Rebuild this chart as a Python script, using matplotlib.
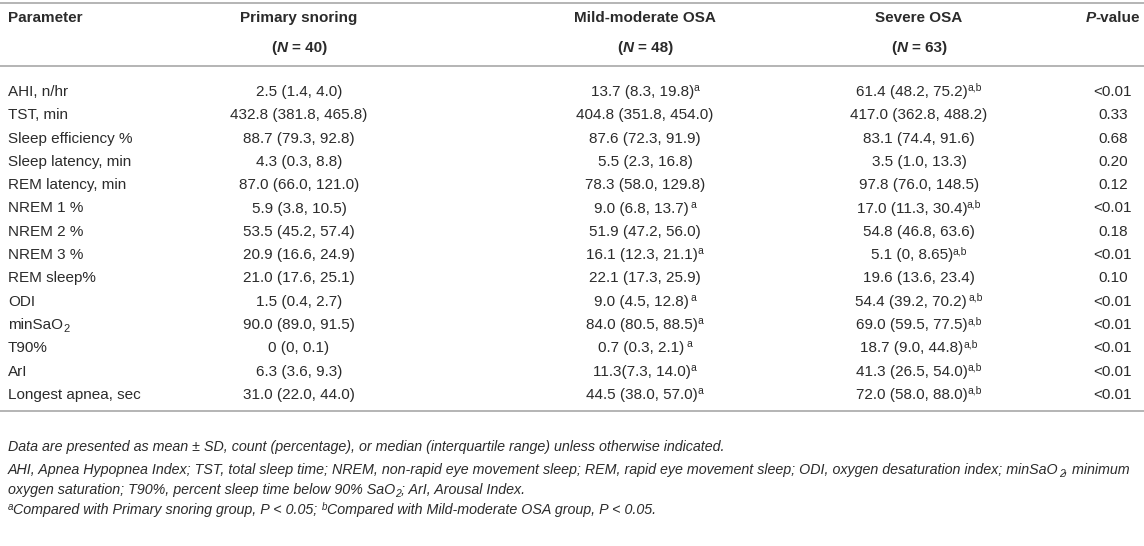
import matplotlib
matplotlib.use("Agg")
import matplotlib.pyplot as plt
from matplotlib.transforms import IdentityTransform

# ---------------- data ----------------
headers = ["Parameter", "Primary snoring", "Mild-moderate OSA", "Severe OSA", "P-value"]
group_n = ["40", "48", "63"]
params = ["AHI, n/hr", "TST, min", "Sleep efficiency %", "Sleep latency, min",
          "REM latency, min", "NREM 1 %", "NREM 2 %", "NREM 3 %", "REM sleep%",
          "ODI", "minSaO2", "T90%", "ArI", "Longest apnea, sec"]
primary = ["2.5 (1.4, 4.0)", "432.8 (381.8, 465.8)", "88.7 (79.3, 92.8)",
           "4.3 (0.3, 8.8)", "87.0 (66.0, 121.0)", "5.9 (3.8, 10.5)",
           "53.5 (45.2, 57.4)", "20.9 (16.6, 24.9)", "21.0 (17.6, 25.1)",
           "1.5 (0.4, 2.7)", "90.0 (89.0, 91.5)", "0 (0, 0.1)",
           "6.3 (3.6, 9.3)", "31.0 (22.0, 44.0)"]
mild = ["13.7 (8.3, 19.8)", "404.8 (351.8, 454.0)", "87.6 (72.3, 91.9)",
        "5.5 (2.3, 16.8)", "78.3 (58.0, 129.8)", "9.0 (6.8, 13.7)",
        "51.9 (47.2, 56.0)", "16.1 (12.3, 21.1)", "22.1 (17.3, 25.9)",
        "9.0 (4.5, 12.8)", "84.0 (80.5, 88.5)", "0.7 (0.3, 2.1)",
        "11.3(7.3, 14.0)", "44.5 (38.0, 57.0)"]
mild_sup = ["a", "", "", "", "", " a", "", "a", "", " a", "a", " a", "a", "a"]
severe = ["61.4 (48.2, 75.2)", "417.0 (362.8, 488.2)", "83.1 (74.4, 91.6)",
          "3.5 (1.0, 13.3)", "97.8 (76.0, 148.5)", "17.0 (11.3, 30.4)",
          "54.8 (46.8, 63.6)", "5.1 (0, 8.65)", "19.6 (13.6, 23.4)",
          "54.4 (39.2, 70.2)", "69.0 (59.5, 77.5)", "18.7 (9.0, 44.8)",
          "41.3 (26.5, 54.0)", "72.0 (58.0, 88.0)"]
severe_sup = ["a,b", "", "", "", "", "a,b", "", "a,b", "", " a,b", "a,b",
              "a,b", "a,b", "a,b"]
pvals = ["<0.01", "0.33", "0.68", "0.20", "0.12", "<0.01", "0.18", "<0.01",
         "0.10", "<0.01", "<0.01", "<0.01", "<0.01", "<0.01"]

# ---------------- styling ----------------
W, H = 1144, 546
FONT = "Liberation Sans"
TXT = "#2b2b2b"
LINE = "#b4b4b4"
FS = 11
FS_SUP = 7.5
FS_NOTE = 10.3
FS_NOTE_SUP = 7

fig = plt.figure(figsize=(W / 100, H / 100), dpi=100)
fig.patch.set_facecolor("white")
renderer = fig.canvas.get_renderer()
PIX = IdentityTransform()


def measure(s, size, weight="normal", style="normal"):
    t = fig.text(0, 0, s, fontsize=size, fontweight=weight, fontstyle=style,
                 family=FONT, transform=PIX)
    w = t.get_window_extent(renderer).width
    t.remove()
    return w


def space_w(size, weight="normal", style="normal"):
    return measure("a a", size, weight, style) - measure("aa", size, weight, style)


def rich(x, ybase, segs, ha="left"):
    """segs: list of (text, dict(size, weight, style, rise, kern))."""
    items = []
    total = 0.0
    for s, kw in segs:
        size = kw.get("size", FS)
        weight = kw.get("weight", "normal")
        style = kw.get("style", "normal")
        lead = kw.get("kern", 0.0)
        while s.startswith(" "):
            lead += space_w(size, weight, style)
            s = s[1:]
        w = measure(s, size, weight, style)
        items.append((s, size, weight, style, kw.get("rise", 0), lead, w))
        total += lead + w
    if ha == "center":
        cx = x - total / 2
    elif ha == "right":
        cx = x - total
    else:
        cx = x
    for s, size, weight, style, rise, lead, w in items:
        cx += lead
        fig.text(cx, H - ybase + rise, s, fontsize=size, fontweight=weight,
                 fontstyle=style, family=FONT, color=TXT, ha="left",
                 va="baseline", transform=PIX)
        cx += w


def hline(y, lw=1.4):
    fig.add_artist(plt.Line2D([0, W], [H - y, H - y], color=LINE, lw=lw,
                              transform=PIX))


# column positions (pixels)
X_PARAM = 8
X_COLS = [299, 645, 919]
X_P = 1113

# horizontal rules
hline(3)
hline(66)
hline(411)

# header
hb1 = 22
hb2 = 52
B = {"weight": "bold"}
rich(X_PARAM, hb1, [(headers[0], B)])
for xc, name, n in zip(X_COLS, headers[1:4], group_n):
    rich(xc, hb1, [(name, B)], ha="center")
    rich(xc, hb2, [("(", B), ("N", {"weight": "bold", "style": "italic"}),
                   (" = " + n + ")", B)], ha="center")
rich(X_P, hb1, [("P", {"weight": "bold", "style": "italic"}),
                ("-value", B)], ha="center")

SUP = {"size": FS_SUP, "rise": 5, "kern": -0.5}
SUB = {"size": FS_SUP + 0.5, "rise": -3}

for i in range(len(params)):
    yb = 96 + 23.3 * i
    p = params[i]
    if p.endswith("O2"):
        rich(X_PARAM, yb, [(p[:-1], {}), (p[-1], SUB)])
    else:
        rich(X_PARAM, yb, [(p, {})])
    rich(X_COLS[0], yb, [(primary[i], {})], ha="center")
    segs = [(mild[i], {})]
    if mild_sup[i]:
        segs.append((mild_sup[i], SUP))
    rich(X_COLS[1], yb, segs, ha="center")
    segs = [(severe[i], {})]
    if severe_sup[i]:
        segs.append((severe_sup[i], SUP))
    rich(X_COLS[2], yb, segs, ha="center")
    rich(X_P, yb, [(pvals[i], {})], ha="center")

# footnotes
IT = {"style": "italic", "size": FS_NOTE}
ISUP = {"style": "italic", "size": FS_NOTE_SUP, "rise": 4.5}
ISUB = {"style": "italic", "size": FS_NOTE_SUP + 0.5, "rise": -3}
notes_x = 8
rich(notes_x, 451, [("Data are presented as mean \u00b1 SD, count (percentage), or median "
                     "(interquartile range) unless otherwise indicated.", IT)])
rich(notes_x, 474, [("AHI, Apnea Hypopnea Index; TST, total sleep time; NREM, non-rapid eye "
                     "movement sleep; REM, rapid eye movement sleep; ODI, oxygen desaturation "
                     "index; minSaO", IT), ("2", ISUB), (", minimum", IT)])
rich(notes_x, 494, [("oxygen saturation; T90%, percent sleep time below 90% SaO", IT),
                    ("2", ISUB), ("; ArI, Arousal Index.", IT)])
rich(notes_x, 514, [("a", ISUP), ("Compared with Primary snoring group, P < 0.05; ", IT),
                    ("b", ISUP), ("Compared with Mild-moderate OSA group, P < 0.05.", IT)])

fig.savefig("out.png", dpi=100, facecolor="white")
